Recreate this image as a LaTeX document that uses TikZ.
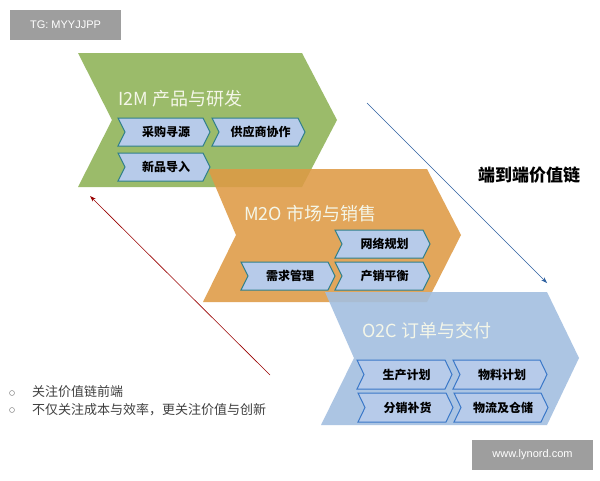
\documentclass[tikz,border=0pt]{standalone}
\usepackage{fontspec}
\newfontfamily\cjk{Noto Sans CJK SC}
\newfontfamily\cjkb{Noto Sans CJK SC Bold}
\setmainfont{Liberation Sans}
\usetikzlibrary{arrows.meta}
\definecolor{gfill}{HTML}{9BBB6A}
\definecolor{ofill}{HTML}{DE9A45}
\definecolor{bfill}{HTML}{A3BFE0}
\definecolor{sfill}{HTML}{B7CBEA}
\definecolor{tealline}{HTML}{2F7F8A}
\definecolor{blueline}{HTML}{3A78C8}
\definecolor{ttl}{HTML}{F4F6E8}
\tikzset{
  chev/.style={draw=none},
  sbox/.style={fill=sfill, draw=#1, line width=1pt},
  slabel/.style={font=\cjk\bfseries\fontsize{12}{12}\selectfont, text=black, inner sep=0pt},
  title/.style={font=\cjk\fontsize{18}{18}\selectfont, text=ttl, anchor=west, inner sep=0pt},
  tag/.style={fill=black!38, text=white, font=\fontsize{11}{11}\selectfont, inner sep=0pt}
}
\newcommand{\sbx}[7]{% name x1 y1 x2 y2 text color
  \fill[sfill] (#2,#3) -- (#4-7,#3) -- (#4,{(#3+#5)/2}) -- (#4-7,#5) -- (#2,#5) -- (#2+7,{(#3+#5)/2}) -- cycle;
  \draw[#7, line width=1pt] (#2,#3) -- (#4-7,#3) -- (#4,{(#3+#5)/2}) -- (#4-7,#5) -- (#2,#5) -- (#2+7,{(#3+#5)/2}) -- cycle;
  \node[slabel] (#1) at ({(#2+#4)/2+2},{(#3+#5)/2}) {#6};}
\begin{document}
\begin{tikzpicture}[x=1pt,y=-1pt]
\useasboundingbox (0,0) rectangle (600,480);
\fill[white] (0,0) rectangle (600,480);
% tags
\node[tag, minimum width=111, minimum height=30] (tg) at (65.5,25) {TG: MYYJJPP};
\node[tag, minimum width=121, minimum height=30] (www) at (532.5,455) {www.lynord.com};
% green chevron
\fill[gfill] (78,53) -- (302,53) -- (337,120) -- (302,187) -- (78,187) -- (112,120) -- cycle;
\node[title] (i2m) at (118,99) {I2M 产品与研发};
% orange chevron
\fill[ofill, opacity=0.88] (208,169) -- (427,169) -- (461,235) -- (427,302) -- (203,302) -- (236,235) -- cycle;
\node[title] (m2o) at (244,214) {M2O 市场与销售};
% blue chevron
\fill[bfill, opacity=0.9] (325,292) -- (547,292) -- (579,358) -- (547,425) -- (321,425) -- (354,358) -- cycle;
\node[title] (o2c) at (362,331) {O2C 订单与交付};
% small boxes
\sbx{a1}{118}{118}{210}{146}{采购寻源}{tealline}
\sbx{a2}{212}{118}{305}{146}{供应商协作}{tealline}
\sbx{a3}{118}{153}{210}{181}{新品导入}{tealline}
\sbx{b1}{335}{230}{430}{258}{网络规划}{tealline}
\sbx{b2}{241}{262}{335}{290}{需求管理}{tealline}
\sbx{b3}{335}{262}{430}{290}{产销平衡}{tealline}
\sbx{c1}{357}{360}{452}{389}{生产计划}{blueline}
\sbx{c2}{453}{360}{547}{389}{物料计划}{blueline}
\sbx{c3}{358}{393}{453}{422}{分销补货}{blueline}
\sbx{c4}{454}{393}{548}{422}{物流及仓储}{blueline}
% arrows
\coordinate (bs) at (367,103);
\coordinate (be) at (547,283);
\draw[blueline!80!black, line width=0.6pt, -{Stealth[length=6pt,width=4pt]}] (bs) -- (be);
\coordinate (rs) at (270,375);
\coordinate (re) at (90,196);
\draw[red!60!black, line width=0.6pt, -{Stealth[length=6pt,width=4pt]}] (rs) -- (re);
\node[font=\cjk\bfseries\fontsize{17}{17}\selectfont, anchor=west, inner sep=0] (e2e) at (478,175) {端到端价值链};
% bullets
\draw[black!45, line width=0.5pt] (12,393) circle (2.5);
\draw[black!45, line width=0.5pt] (12,410) circle (2.5);
\node[font=\cjk\fontsize{13}{13}\selectfont, text=black!75, anchor=west, inner sep=0] (t1) at (32,392) {关注价值链前端};
\node[font=\cjk\fontsize{13}{13}\selectfont, text=black!75, anchor=west, inner sep=0] (t2) at (32,410) {不仅关注成本与效率，更关注价值与创新};
\end{tikzpicture}
\end{document}
